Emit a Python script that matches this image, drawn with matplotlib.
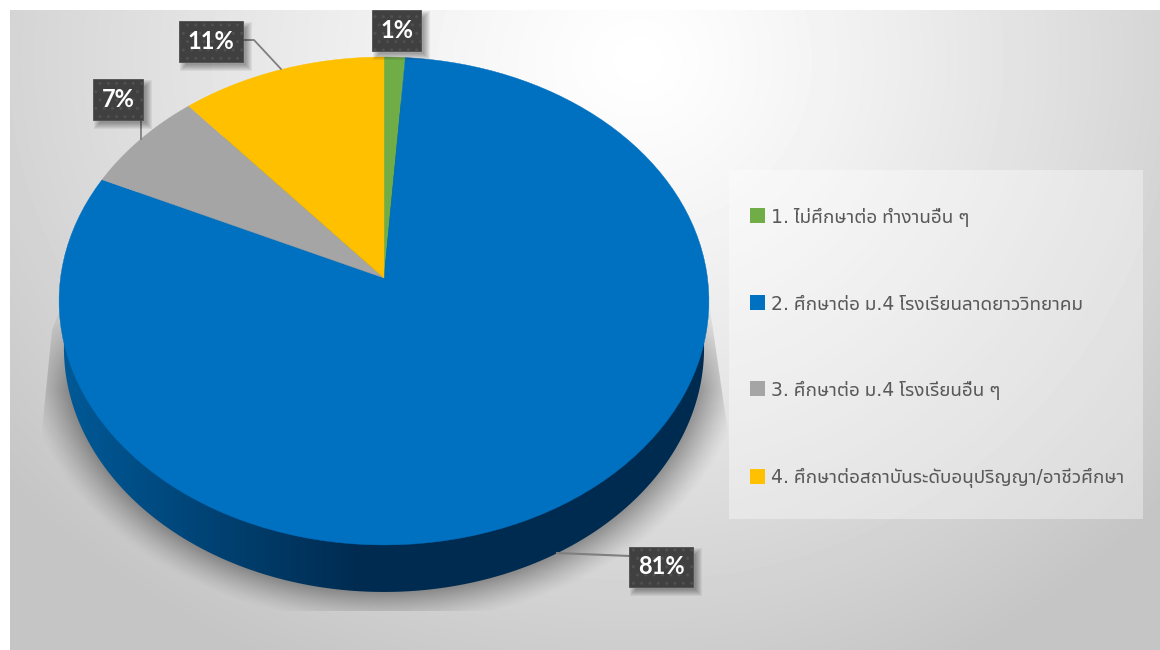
import numpy as np
import matplotlib
matplotlib.use('Agg')
import matplotlib.pyplot as plt
from matplotlib.patches import Rectangle, Polygon

labels = ['1. ไม่ศึกษาต่อ ทำงานอื่น ๆ', '2. ศึกษาต่อ ม.4 โรงเรียนลาดยาววิทยาคม',
          '3. ศึกษาต่อ ม.4 โรงเรียนอื่น ๆ', '4. ศึกษาต่อสถาบันระดับอนุปริญญา/อาชีวศึกษา']
values = [1.15, 80.8, 6.85, 11.2]
pct_labels = ['1%', '81%', '7%', '11%']
colors = ['#70AD47', '#0070C0', '#A5A5A5', '#FFC000']

W, H = 1160, 650
fig = plt.figure(figsize=(W/100, H/100), dpi=100)
ax = fig.add_axes([0, 0, 1, 1])
ax.axis('off')

# background gradient, bright spot upper middle
yy, xx = np.mgrid[10:650, 10:1160]
d = np.sqrt(((xx-640)/np.where(xx < 640, 850.0, 720.0))**2 + ((yy-60)/700.0)**2)
bg = np.clip(1.0 - 0.24*d**1.2, 0.77, 1.0)
ax.imshow(bg, extent=(10, 1160, 650, 10), cmap='gray', vmin=0, vmax=1, aspect='auto', zorder=0)

# perspective of the pie
cx, cy = 384, 278
a, h, k = 323.5, 241.8, 0.0943

def top_pt(theta):
    u, v = np.sin(theta), np.cos(theta)
    den = 1 + k*v
    return cx + a*u/den, cy - h*v/den

# shadow behind the pie, cut off at a trapezoid like the original
sy, sx = np.mgrid[290:612, 40:730]
sd = np.sqrt(((sx-384)/322.0)**2 + ((sy-345)/247.0)**2)
sa = np.clip((1.13-sd)/0.13, 0, 1)**1.3*0.34*np.clip((sy-300)/90.0, 0.15, 1)
shadow = np.zeros(sa.shape+(4,))
shadow[..., 3] = sa
im = ax.imshow(shadow, extent=(40, 730, 612, 290), aspect='auto', zorder=1)
clip = Polygon([(40, 450), (52, 330), (60, 310), (708, 295), (729, 440), (729, 611), (40, 611)],
               transform=ax.transData, fc='none', ec='none')
ax.add_patch(clip)
im.set_clip_path(clip)

# side wall: lower ellipse with a left to right gradient, top face covers the rest
t = np.linspace(0, 2*np.pi, 400)
tx, ty = top_pt(t)
bx = cx + (tx-cx)*0.985
by = ty + 47
side = np.clip((np.arange(50, 720)-60)/300.0, 0, 1)
c0, c1 = np.array([0x00, 0x5a, 0x98]), np.array([0x00, 0x2b, 0x50])
grad = np.outer(1-side, c0) + np.outer(side, c1)
im2 = ax.imshow((grad/255)[None, :, :], extent=(50, 720, 600, 90), aspect='auto', zorder=2)
wall = Polygon(np.c_[bx, by], transform=ax.transData, fc='none', ec='none')
ax.add_patch(wall)
im2.set_clip_path(wall)

# top face
edges = np.cumsum([0]+values)/sum(values)*2*np.pi
for i in range(len(values)):
    th = np.linspace(edges[i], edges[i+1], 120)
    ex, ey = top_pt(th)
    ax.fill(np.r_[cx, ex], np.r_[cy, ey], color=colors[i], lw=0.3, zorder=3)

# leader lines
ax.plot([243, 254, 281], [40, 40, 69], color='#7f7f7f', lw=1.3, zorder=4)
ax.plot([141, 141], [120, 139], color='#7f7f7f', lw=1.3, zorder=4)
ax.plot([630, 557], [556, 553], color='#7f7f7f', lw=1.5, zorder=4)

# data labels
boxes = [(372, 10, 49, 41), (629, 547, 64, 40), (93, 79, 50, 41), (179, 21, 64, 41)]
for (bx0, by0, bw, bh), s in zip(boxes, pct_labels):
    # soft shadow
    for grow in [4, 3, 2, 1, 0, -1, -2]:
        ax.add_patch(Rectangle((bx0+5-grow, by0+5-grow), bw+2*grow, bh+2*grow,
                               fc='black', ec='none', alpha=0.055, zorder=5))
    ax.add_patch(Rectangle((bx0, by0), bw, bh, fc='#404040', ec='#505050', lw=0.6, hatch='..', zorder=6))
    ax.text(bx0+bw/2, by0+bh/2, s, color='white', fontsize=17, fontweight='bold', family='Lato',
            ha='center', va='center', zorder=7)

# legend
ax.add_patch(Rectangle((729, 170), 414, 349, fc='white', ec='none', alpha=0.36, zorder=3))
leg_y = [215.5, 302, 388.5, 476]
for lab, col, y in zip(labels, colors, leg_y):
    ax.add_patch(Rectangle((750, y-7.5), 15, 15, fc=col, ec='none', zorder=4))
    ax.text(771, y+2, lab, color='#595959', fontsize=13.6, family=['Noto Sans Thai UI', 'DejaVu Sans'],
            ha='left', va='center', zorder=4)

ax.set_xlim(0, W)
ax.set_ylim(H, 0)
fig.savefig('out.png', dpi=100)
